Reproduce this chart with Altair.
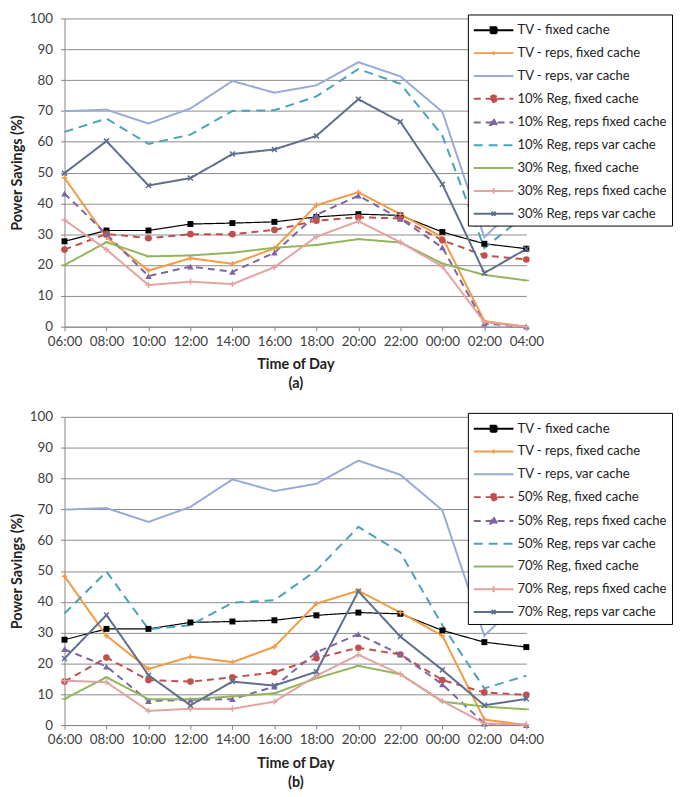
import altair as alt
import pandas as pd

times = ["06:00", "08:00", "10:00", "12:00", "14:00", "16:00",
         "18:00", "20:00", "22:00", "00:00", "02:00", "04:00"]

# shared TV series
tv_fixed = [27.7, 31.2, 31.2, 33.3, 33.6, 34.0, 35.6, 36.5, 36.1, 30.7, 26.9, 25.3]
tv_reps_fixed = [48.3, 29.0, 18.2, 22.2, 20.4, 25.4, 39.4, 43.6, 36.5, 29.0, 1.8, 0.0]
tv_reps_var = [69.9, 70.4, 65.9, 70.8, 79.7, 75.9, 78.3, 85.8, 81.2, 69.7, 29.0, 42.0]

# panel (a)
r10_fixed = [25.0, 30.1, 28.7, 30.0, 30.0, 31.4, 34.4, 35.5, 35.1, 28.0, 23.1, 21.8]
r10_reps_fixed = [43.2, 30.0, 16.4, 19.5, 17.8, 24.0, 36.3, 42.5, 35.0, 25.7, 1.0, 0.0]
r10_reps_var = [63.2, 67.5, 59.3, 62.3, 70.0, 70.2, 74.7, 83.6, 78.8, 62.0, 25.5, 36.5]
r30_fixed = [20.0, 27.4, 22.8, 23.1, 24.0, 25.6, 26.5, 28.4, 27.3, 20.5, 16.8, 15.0]
r30_reps_fixed = [34.6, 25.0, 13.5, 14.6, 13.8, 19.3, 29.2, 34.2, 27.4, 19.5, 1.5, 0.0]
r30_reps_var = [49.8, 60.2, 45.8, 48.2, 56.0, 57.5, 61.9, 73.8, 66.5, 46.2, 17.4, 25.2]

# panel (b)
r50_fixed = [14.1, 21.9, 14.6, 14.1, 15.5, 17.1, 21.7, 25.1, 22.9, 14.6, 10.6, 9.8]
r50_reps_fixed = [24.6, 19.0, 7.8, 8.2, 8.4, 12.5, 23.6, 29.5, 22.9, 13.2, 0.5, 0.0]
r50_reps_var = [36.2, 49.8, 31.1, 32.4, 39.7, 40.5, 50.2, 64.3, 56.0, 32.4, 11.9, 16.0]
r70_fixed = [8.5, 15.5, 8.4, 8.4, 9.3, 10.3, 15.2, 19.2, 16.5, 7.6, 6.0, 5.1]
r70_reps_fixed = [14.4, 13.9, 4.6, 5.3, 5.3, 7.6, 16.0, 22.8, 16.5, 7.8, 0.5, 0.2]
r70_reps_var = [21.6, 35.7, 16.2, 6.4, 14.1, 12.8, 17.3, 43.4, 28.7, 17.9, 6.4, 8.5]

names_a = ["TV - fixed cache", "TV - reps, fixed cache", "TV - reps, var cache",
           "10% Reg, fixed cache", "10% Reg, reps fixed cache", "10% Reg, reps var cache",
           "30% Reg, fixed cache", "30% Reg, reps fixed cache", "30% Reg, reps var cache"]
names_b = ["TV - fixed cache", "TV - reps, fixed cache", "TV - reps, var cache",
           "50% Reg, fixed cache", "50% Reg, reps fixed cache", "50% Reg, reps var cache",
           "70% Reg, fixed cache", "70% Reg, reps fixed cache", "70% Reg, reps var cache"]
values_a = [tv_fixed, tv_reps_fixed, tv_reps_var, r10_fixed, r10_reps_fixed, r10_reps_var,
            r30_fixed, r30_reps_fixed, r30_reps_var]
values_b = [tv_fixed, tv_reps_fixed, tv_reps_var, r50_fixed, r50_reps_fixed, r50_reps_var,
            r70_fixed, r70_reps_fixed, r70_reps_var]

# styles (per series position)
COLORS = ["#000000", "#F39A45", "#9AAAD8", "#C0504D", "#7F64A2", "#4BA3B7",
          "#92B65A", "#E3A3A0", "#5E6E8E"]
DASHES = [[1, 0], [1, 0], [1, 0], [7, 5], [7, 5], [9, 6], [1, 0], [1, 0], [1, 0]]
PLUS = "M-1,0H1M0,-1V1"
XMARK = "M-1,-1L1,1M-1,1L1,-1"
DASH = "M-1,0H1"
MARKERS = [("square", True, 36), (PLUS, False, 30), None,
           ("circle", True, 45), ("triangle-up", True, 45), None,
           (DASH, False, 30), (PLUS, False, 36), (XMARK, False, 25)]
# legend symbols (symbol half-size = 10px): 40px line + marker
LINE = "M-2,0H2"
LEG_PATHS = [
    LINE + "M-0.3,-0.3H0.3V0.3H-0.3Z",
    LINE + "M-0.2,0H0.2M0,-0.2V0.2",
    LINE,
    LINE + "M0.34,0L0.24,0.24L0,0.34L-0.24,0.24L-0.34,0L-0.24,-0.24L0,-0.34L0.24,-0.24Z",
    LINE + "M0,-0.36L0.34,0.26L-0.34,0.26Z",
    LINE,
    LINE,
    LINE + "M0,-0.3V0.3",
    LINE + "M-0.2,-0.2L0.2,0.2M-0.2,0.2L0.2,-0.2",
]

FONT = "Lato"
W, H = 466, 311


def panel(names, values, tag):
    rows = []
    for n, vals in zip(names, values):
        for t, v in zip(times, vals):
            rows.append({"time": t, "series": n, "value": v})
    df = pd.DataFrame(rows)
    base = alt.Chart(df)

    x = alt.X("time:N", sort=times,
              scale=alt.Scale(type="point", padding=0),
              axis=alt.Axis(title=["Time of Day", tag], labelAngle=0))
    y = alt.Y("value:Q", scale=alt.Scale(domain=[0, 100], nice=False),
              axis=alt.Axis(title="Power Savings  (%)", values=list(range(0, 101, 10))))

    cscale = alt.Scale(domain=names, range=COLORS)
    dscale = alt.Scale(domain=names, range=DASHES)

    leg = alt.Legend(
        title=None, orient="none", legendX=407, legendY=-4,
        direction="vertical",
        padding=5, strokeColor="#000000", fillColor="#FFFFFF", cornerRadius=0,
        labelFont=FONT, labelFontSize=13.2, labelColor="#222222", labelLimit=300,
        labelOffset=13, symbolOffset=10, symbolSize=400, symbolStrokeWidth=2,
        rowPadding=5, symbolOpacity=1,
    )
    # invisible layer whose only job is to carry the legend
    legend_layer = base.mark_point(
        filled=True, opacity=0, strokeWidth=2
    ).encode(
        x=x, y=y,
        color=alt.Color("series:N", scale=cscale, legend=leg),
        stroke=alt.Stroke("series:N", scale=alt.Scale(domain=names, range=COLORS), legend=leg),
        shape=alt.Shape("series:N", scale=alt.Scale(domain=names, range=LEG_PATHS), legend=leg),
        strokeDash=alt.StrokeDash("series:N", scale=dscale, legend=leg),
    )

    lines = base.mark_line(strokeJoin="miter").encode(
        x=x, y=y,
        color=alt.Color("series:N", scale=cscale, legend=None),
        strokeDash=alt.StrokeDash("series:N", scale=dscale, legend=None),
        strokeWidth=alt.condition(alt.datum.series == names[0], alt.value(1.2), alt.value(2)),
    )

    layers = [legend_layer, lines]
    for n, m in zip(names, MARKERS):
        if m is None:
            continue
        shape, filled, size = m
        layers.append(
            base.transform_filter(alt.datum.series == n)
            .mark_point(shape=shape, filled=filled, size=size, strokeWidth=1.5, opacity=1)
            .encode(x=x, y=y,
                    color=alt.Color("series:N", scale=cscale, legend=None))
        )

    return alt.layer(*layers).properties(width=W, height=H)


chart = alt.vconcat(
    panel(names_a, values_a, "(a)"),
    panel(names_b, values_b, "(b)"),
    spacing=20,
).resolve_scale(
    color="independent", stroke="independent", shape="independent",
    strokeDash="independent", x="independent", y="independent",
).resolve_legend(
    color="independent", stroke="independent", shape="independent",
    strokeDash="independent",
).properties(
    padding={"left": 1, "top": 0, "right": 0, "bottom": 0},
    background="#FFFFFF",
).configure_view(
    stroke=None
).configure_axis(
    labelFont=FONT, labelFontSize=13.5, labelColor="#404040",
    titleFont=FONT, titleFontSize=14.5, titleFontWeight="bold", titleColor="#222222",
    domainColor="#868686", tickColor="#868686", gridColor="#8C8C8C",
    gridWidth=1, domainWidth=1, tickSize=4,
).configure_axisX(
    grid=False, labelPadding=4, titlePadding=10, titleLineHeight=19,
).configure_axisY(
    grid=True, labelPadding=8, titlePadding=5,
)

chart.save("out.html", embed_options={"renderer": "svg", "actions": False})
